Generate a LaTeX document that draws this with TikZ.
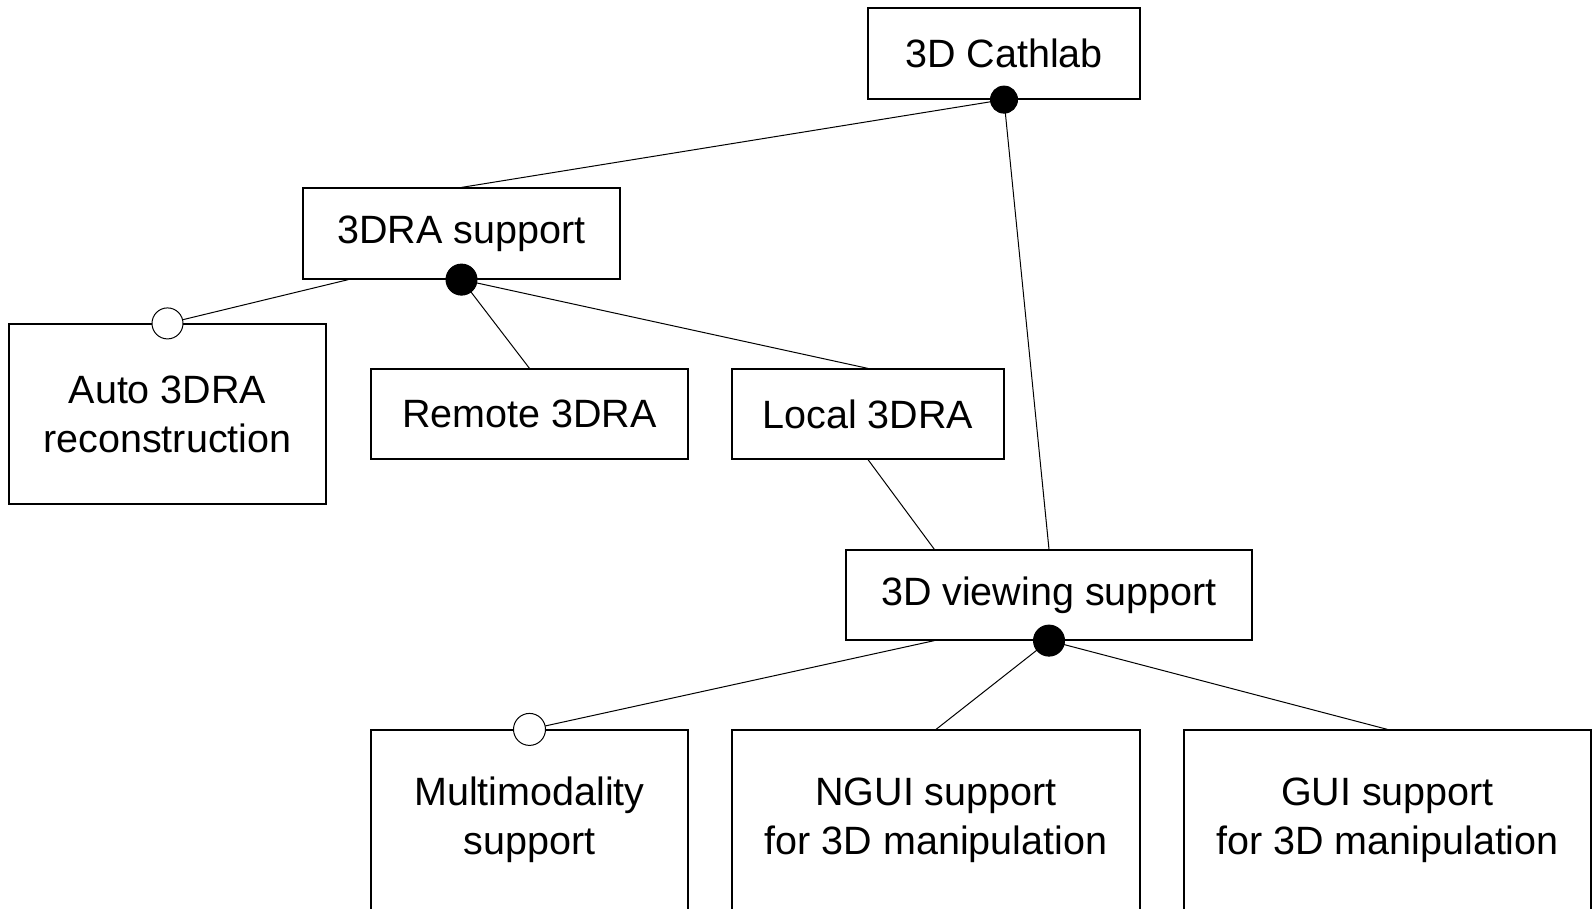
\documentclass[tikz,border=0pt]{standalone}
\usepackage{fontspec}
\setmainfont{Liberation Sans}
\usetikzlibrary{calc}
\begin{document}
\begin{tikzpicture}[x=1pt,y=-1pt,
  feat/.style={draw=black,line width=1.2pt,rectangle,inner sep=0pt,align=center,
    font=\fontsize{39.5}{49}\selectfont},
  conn/.style={draw=black,line width=1pt},
  mand/.style={fill=black,draw=black,line width=1pt},
  opt/.style={fill=white,draw=black,line width=1pt}]
\useasboundingbox (0,0) rectangle (1594,908);
\fill[white] (0,0) rectangle (1594,908);
\node[feat,minimum width=272pt,minimum height=91pt] (cath) at (1004,53.5) {3D Cathlab};
\node[feat,minimum width=317pt,minimum height=91pt] (dra) at (461.5,233.5) {3DRA support};
\node[feat,minimum width=317pt,minimum height=180pt] (auto) at (167.5,414) {Auto 3DRA\\reconstruction};
\node[feat,minimum width=317pt,minimum height=90pt] (remote) at (529.5,414) {Remote 3DRA};
\node[feat,minimum width=272pt,minimum height=90pt] (local) at (868,414) {Local 3DRA};
\node[feat,minimum width=406pt,minimum height=90pt] (view) at (1049,595) {3D viewing support};
\node[feat,minimum width=317pt,minimum height=180pt] (multi) at (529.5,820) {Multimodality\\support};
\node[feat,minimum width=408pt,minimum height=180pt] (ngui) at (936,820) {NGUI support\\for 3D manipulation};
\node[feat,minimum width=407pt,minimum height=180pt] (gui) at (1387.5,820) {GUI support\\for 3D manipulation};
\coordinate (draopt) at ($(dra.south west)+(46,0)$);
\coordinate (viewin) at ($(view.north west)+(89,0)$);
\coordinate (viewopt) at ($(view.south west)+(89,0)$);
\draw[conn] (cath.south) -- (dra.north);
\draw[conn] (cath.south) -- (view.north);
\draw[conn] (draopt) -- (auto.north);
\draw[conn] (dra.south) -- (remote.north);
\draw[conn] (dra.south) -- (local.north);
\draw[conn] (local.south) -- (viewin);
\draw[conn] (viewopt) -- (multi.north);
\draw[conn] (view.south) -- (ngui.north);
\draw[conn] (view.south) -- (gui.north);
\fill[mand] (cath.south) circle (13.5);
\fill[mand] (dra.south) circle (15.5);
\fill[mand] (view.south) circle (15.5);
\filldraw[opt] (auto.north) circle (15.5);
\filldraw[opt] (multi.north) circle (16);
\end{tikzpicture}
\end{document}
